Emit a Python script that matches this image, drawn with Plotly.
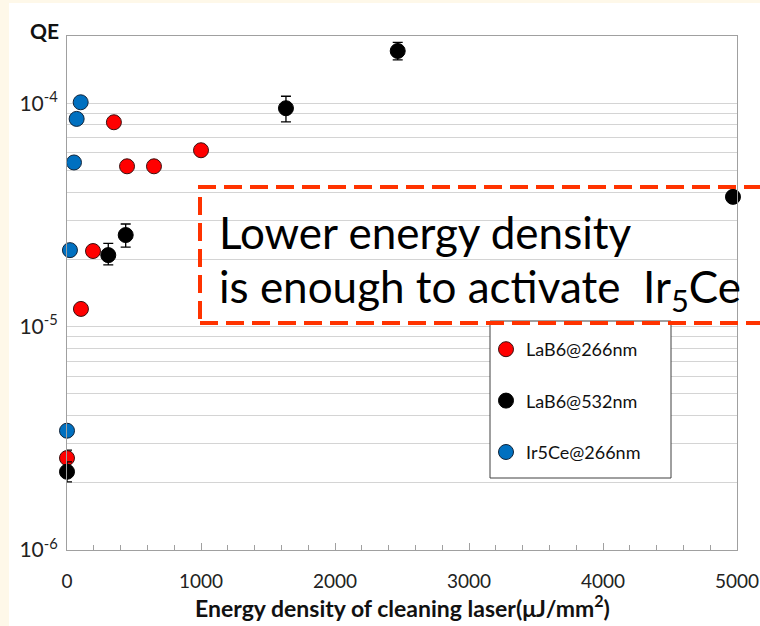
import plotly.graph_objects as go

# ---- data ----
lab6_266_x = [0, 104, 194, 350, 448, 649, 1000]
lab6_266_y = [2.58e-6, 1.20e-5, 2.18e-5, 8.22e-5, 5.22e-5, 5.22e-5, 6.16e-5]
lab6_266_err = [0.22e-6, 0, 0, 0, 0, 0, 0]

lab6_532_x = [0, 308, 438, 1634, 2468, 4970]
lab6_532_y = [2.24e-6, 2.09e-5, 2.57e-5, 9.50e-5, 1.714e-4, 3.81e-5]
lab6_532_err_plus = [0.24e-6, 0.27e-5, 0.31e-5, 1.25e-5, 0.16e-4, 0]
lab6_532_err_minus = [0.22e-6, 0.20e-5, 0.30e-5, 1.25e-5, 0.15e-4, 0]

ir5ce_266_x = [0, 22, 52, 72, 102]
ir5ce_266_y = [3.42e-6, 2.2e-5, 5.43e-5, 8.51e-5, 1.01e-4]

x_ticks = [0, 1000, 2000, 3000, 4000, 5000]
y_major = [1e-6, 1e-5, 1e-4]
y_major_text = ["10<sup>-6</sup>", "10<sup>-5</sup>", "10<sup>-4</sup>"]

FONT = "Lato"

# y gridlines at every 1..9 x decade
y_grid = []
y_grid_text = []
for d in y_major:
    for m in range(1, 10):
        v = m * d
        if v <= 2.0001e-4:
            y_grid.append(v)
            y_grid_text.append(y_major_text[y_major.index(d)] if m == 1 else "")

# pixel helpers (plot area: x 67..737, y 36..550)
L, R, T, B = 67, 737, 36, 550
def px(x):
    return (x - L) / (R - L)
def py(y):
    return (B - y) / (B - T)

fig = go.Figure()

fig.add_trace(go.Scatter(
    x=lab6_266_x, y=lab6_266_y, mode="markers", name="LaB6@266nm",
    legendgroup="a",
    marker=dict(size=15, color="#FF0000", line=dict(color="#3a1010", width=1)),
    error_y=dict(type="data", array=lab6_266_err, color="black", thickness=1.3, width=5),
    cliponaxis=False,
))
fig.add_trace(go.Scatter(
    x=lab6_532_x, y=lab6_532_y, mode="markers", name="LaB6@532nm",
    legendgroup="b",
    marker=dict(size=15, color="#000000", line=dict(color="#000000", width=1)),
    error_y=dict(type="data", array=lab6_532_err_plus, arrayminus=lab6_532_err_minus,
                 color="black", thickness=1.3, width=5),
    cliponaxis=False,
))
fig.add_trace(go.Scatter(
    x=ir5ce_266_x, y=ir5ce_266_y, mode="markers", name="Ir5Ce@266nm",
    legendgroup="c",
    marker=dict(size=15, color="#0070C0", line=dict(color="#10243a", width=1)),
    cliponaxis=False,
))

shapes = [
    # cream frame strips
    dict(type="rect", xref="paper", yref="paper", x0=px(0), x1=px(9), y0=py(626), y1=py(0),
         fillcolor="#FEF8E9", line=dict(width=0), layer="below"),
    dict(type="rect", xref="paper", yref="paper", x0=px(0), x1=px(760), y0=py(3), y1=py(0),
         fillcolor="#FEF8E9", line=dict(width=0), layer="below"),
    # legend box
    dict(type="rect", xref="paper", yref="paper", x0=px(490), x1=px(671), y0=py(478), y1=py(321),
         fillcolor="white", line=dict(color="#404040", width=1), layer="above"),
    # dashed red callout box
    dict(type="rect", xref="paper", yref="paper", x0=px(200), x1=px(790), y0=py(323), y1=py(187),
         fillcolor="rgba(0,0,0,0)", line=dict(color="#FF3300", width=4, dash="18px,8px"),
         layer="above"),
]

annotations = [
    dict(text="<b>QE</b>", xref="paper", yref="paper", x=px(44), y=py(30),
         xanchor="center", yanchor="middle", showarrow=False,
         font=dict(family=FONT, size=21, color="#111111")),
    dict(text="<b>Energy density of cleaning laser(μJ/mm<sup>2</sup>)</b>", xref="paper", yref="paper",
         x=px(402), y=py(606), xanchor="center", yanchor="middle", showarrow=False,
         font=dict(family=FONT, size=23, color="#111111")),
    dict(text="Lower energy density", xref="paper", yref="paper",
         x=px(217), y=py(232), xanchor="left", yanchor="middle", showarrow=False,
         font=dict(family=FONT, size=44, color="#000000")),
    dict(text="is enough to activate \u00a0Ir<sub>5</sub>Ce", xref="paper", yref="paper",
         x=px(217), y=py(289), xanchor="left", yanchor="middle", showarrow=False,
         font=dict(family=FONT, size=44, color="#000000")),
]

fig.update_layout(
    width=760, height=626,
    margin=dict(l=L, r=760 - R, t=T, b=626 - B, pad=0),
    paper_bgcolor="white", plot_bgcolor="white",
    font=dict(family=FONT, color="#222222"),
    showlegend=True,
    legend=dict(
        x=px(486), y=py(331), xanchor="left", yanchor="top",
        bgcolor="rgba(0,0,0,0)", borderwidth=0,
        font=dict(family=FONT, size=18, color="#111111"),
        tracegroupgap=25, traceorder="grouped",
    ),
    xaxis=dict(
        range=[0, 5000], tickvals=x_ticks, ticks="inside", ticklen=7, tickcolor="#A0A0A0",
        showgrid=False, zeroline=False, showline=True, linecolor="#A0A0A0", linewidth=1,
        mirror=True, tickfont=dict(family=FONT, size=19, color="#222222"),
        ticklabelstandoff=14, automargin=False,
        minor=dict(dtick=200, ticks="inside", ticklen=5, tickcolor="#A0A0A0", showgrid=False),
    ),
    yaxis=dict(
        type="log", range=[-6, -3.69897], tickvals=y_grid, ticktext=y_grid_text,
        ticks="", showgrid=True, gridcolor="#D4D4D4", gridwidth=1, automargin=False,
        zeroline=False, showline=True, linecolor="#A0A0A0", linewidth=1, mirror=True,
        tickfont=dict(family=FONT, size=21, color="#222222"),
        ticklabelstandoff=4,
    ),
    shapes=shapes,
    annotations=annotations,
)

fig.write_html("out.html", config={"displayModeBar": False},
               post_script="document.body.style.margin='0';")
